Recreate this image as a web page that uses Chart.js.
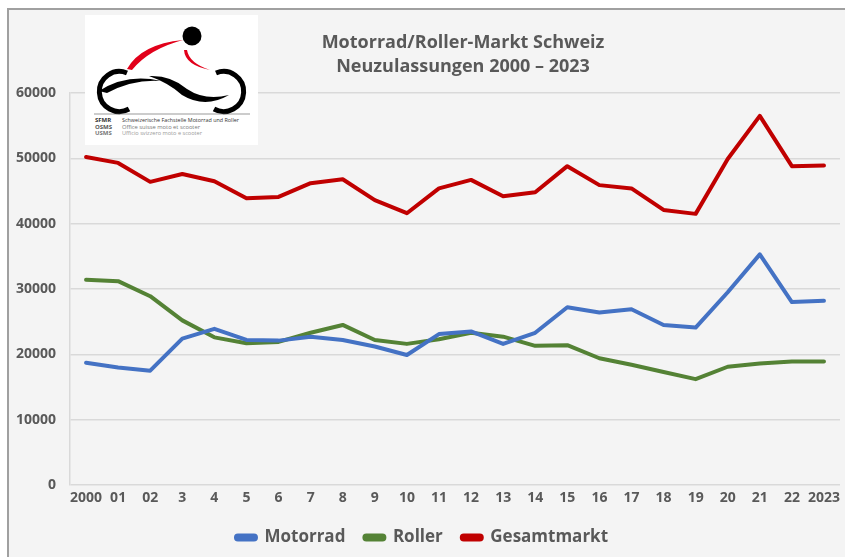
<!DOCTYPE html>
<html>
<head>
<meta charset="utf-8">
<script src="https://cdn.jsdelivr.net/npm/chart.js@4"></script>
<style>
  html, body { margin: 0; padding: 0; background: #fff; overflow: hidden; }
  #frame {
    position: absolute; left: 7px; top: 8px; width: 850px; height: 560px;
    background: #f4f4f4; border-left: 2px solid #a0a0a0; border-top: 2px solid #a0a0a0;
  }
  #wrap { position: absolute; left: 0; top: 0; width: 845px; height: 557px; }
  #logo { position: absolute; left: 85px; top: 15px; width: 173px; height: 130px; z-index: 2; }
</style>
</head>
<body>
<div id="frame"></div>
<div id="wrap"><canvas id="myChart" width="845" height="557"></canvas></div>
<svg id="logo" viewBox="0 0 173 130" xmlns="http://www.w3.org/2000/svg">
  <rect x="0" y="0" width="173" height="130" fill="#ffffff"/>
  <circle cx="107" cy="21" r="9.5" fill="#000"/>
  <path d="M42 54 Q56 29 98 25 Q64 34 47 55 Z" fill="#e2001a"/>
  <path d="M99 35 Q100 50 125 55 Q104 48 102 35 Z" fill="#e2001a"/>
  <path d="M42 58 A20 20 0 1 0 44 94" fill="none" stroke="#000" stroke-width="5"/>
  <path d="M131 58 A20 20 0 1 1 129 94" fill="none" stroke="#000" stroke-width="5"/>
  <path d="M14 76 Q42 58 76 66 Q48 64 22 78 Z" fill="#000"/>
  <path d="M64 61 Q86 60 102 74 Q120 86 144 80 Q120 94 97 80 Q84 68 64 61 Z" fill="#000"/>
  <line x1="9" y1="99" x2="165" y2="99" stroke="#555" stroke-width="0.6"/>
  <g font-family="'Liberation Sans Narrow', 'Open Sans', sans-serif" font-size="6">
    <text x="10" y="107" font-weight="bold" fill="#333">SFMR</text>
    <text x="37" y="107" fill="#333" textLength="117" lengthAdjust="spacingAndGlyphs">Schweizerische Fachstelle Motorrad und Roller</text>
    <text x="10" y="113.5" font-weight="bold" fill="#555">OSMS</text>
    <text x="37" y="113.5" fill="#777" textLength="78" lengthAdjust="spacingAndGlyphs">Office suisse moto et scooter</text>
    <text x="10" y="120" font-weight="bold" fill="#777">USMS</text>
    <text x="37" y="120" fill="#999" textLength="80" lengthAdjust="spacingAndGlyphs">Ufficio svizzero moto e scooter</text>
  </g>
</svg>
<script>
const years = ['2000', '01', '02', '3', '4', '5', '6', '7', '8', '9', '10', '11', '12', '13', '14', '15', '16', '17', '18', '19', '20', '21', '22', '2023'];
const motorrad = [18700, 18000, 17500, 22400, 23900, 22200, 22100, 22700, 22200, 21200, 19900, 23100, 23500, 21600, 23300, 27200, 26400, 26900, 24500, 24100, 29500, 35300, 28000, 28200];
const roller = [31400, 31200, 28900, 25200, 22600, 21700, 21900, 23300, 24500, 22200, 21600, 22300, 23300, 22700, 21300, 21400, 19400, 18400, 17300, 16200, 18100, 18600, 18900, 18900];
const gesamtmarkt = [50200, 49300, 46400, 47600, 46500, 43900, 44100, 46200, 46800, 43600, 41600, 45400, 46700, 44200, 44800, 48800, 45900, 45400, 42100, 41500, 49900, 56500, 48800, 48900];
const titleLines = ['Motorrad/Roller-Markt Schweiz', 'Neuzulassungen 2000 \u2013 2023'];

const textColor = '#595959';
const fontFamily = "'Open Sans', sans-serif";
const ctx = document.getElementById('myChart');

const titlePlugin = {
    id: 'titleText',
    afterDraw: (chart) => {
        const c = chart.ctx;
        c.save();
        c.fillStyle = textColor;
        c.font = 'bold 18px ' + fontFamily;
        c.textAlign = 'center';
        c.textBaseline = 'middle';
        c.fillText(titleLines[0], 463, 43);
        c.fillText(titleLines[1], 463, 67);
        c.restore();
    }
};

const makeSet = (label, data, color) => ({
    label,
    data,
    borderColor: color,
    backgroundColor: color,
    borderWidth: 4,
    pointRadius: 0,
    tension: 0,
    borderCapStyle: 'round',
    borderJoinStyle: 'round'
});

const myChart = new Chart(ctx, {
    type: 'line',
    data: {
        labels: years,
        datasets: [
            makeSet('Motorrad', motorrad, '#4472c4'),
            makeSet('Roller', roller, '#548235'),
            makeSet('Gesamtmarkt', gesamtmarkt, '#c00000')
        ]
    },
    options: {
        responsive: false,
        animation: false,
        layout: { padding: { top: 93, left: 0, right: 1, bottom: 1 } },
        plugins: {
            title: { display: false },
            tooltip: { enabled: false },
            legend: {
                position: 'bottom',
                labels: {
                    color: textColor,
                    font: { family: fontFamily, size: 17, weight: 'bold' },
                    boxWidth: 20,
                    boxHeight: 4,
                    useBorderRadius: true,
                    borderRadius: 2,
                    padding: 19
                }
            }
        },
        scales: {
            x: {
                offset: true,
                grid: { display: false, drawTicks: false },
                border: { display: false },
                ticks: {
                    color: textColor,
                    font: { family: fontFamily, size: 14, weight: 'bold' },
                    maxRotation: 0,
                    autoSkip: false,
                    padding: 5
                },
                afterFit: (scale) => { scale.height = 25; }
            },
            y: {
                min: 0,
                max: 60000,
                afterFit: (scale) => { scale.width = 70; },
                grid: { color: '#d9d9d9', lineWidth: 1.5, drawTicks: false },
                border: { display: true, color: '#d9d9d9', width: 1.5 },
                ticks: {
                    stepSize: 10000,
                    color: textColor,
                    font: { family: fontFamily, size: 14, weight: 'bold' },
                    padding: 14,
                    callback: (value) => String(value)
                }
            }
        }
    },
    plugins: [titlePlugin]
});
</script>
</body>
</html>
